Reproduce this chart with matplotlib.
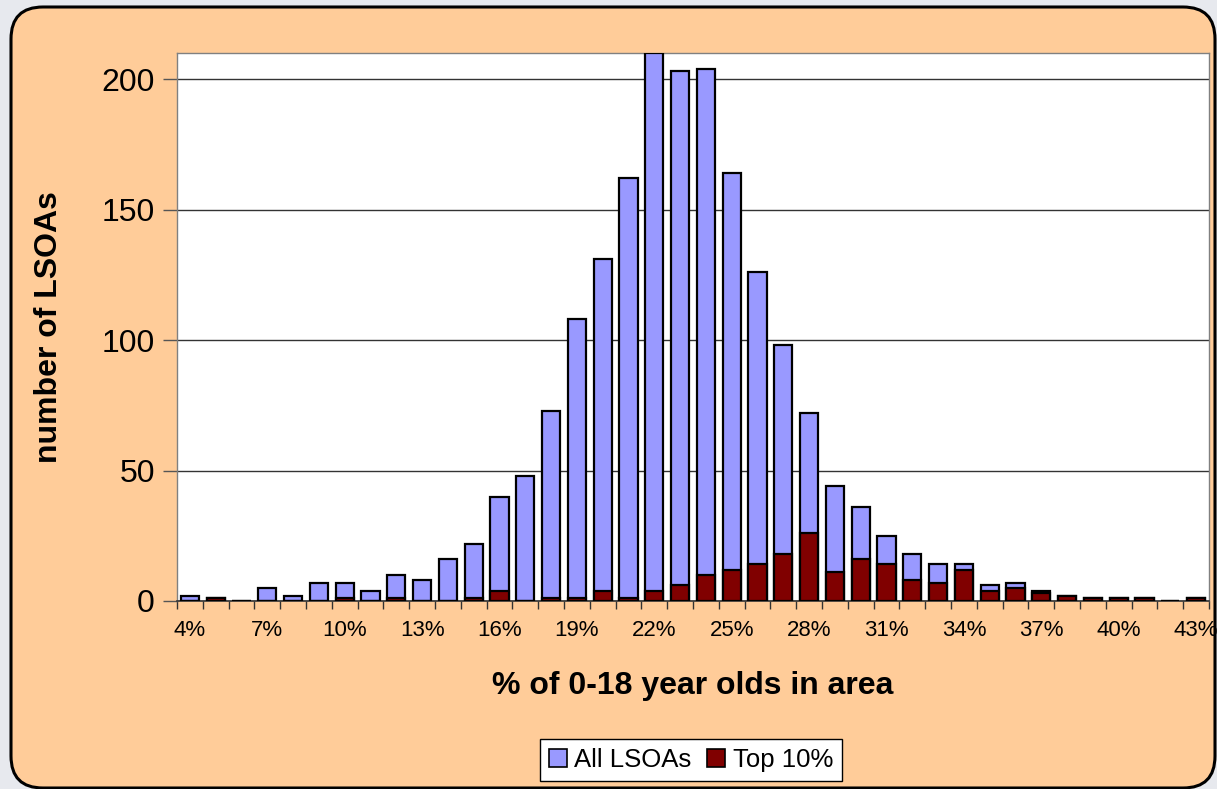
import matplotlib
matplotlib.use("Agg")
from matplotlib import pyplot as plt
from matplotlib.patches import FancyBboxPatch, Patch
import numpy as np

plt.rcParams['font.family'] = ['Liberation Sans', 'DejaVu Sans']

# % of 0-18 year olds, one category per percent
categories = [f"{p}%" for p in range(4, 44)]
all_lsoas = [2, 1, 0, 5, 2, 7, 7, 4, 10, 8, 16, 22, 40, 48, 73, 108, 131, 162, 210, 203,
             204, 164, 126, 98, 72, 44, 36, 25, 18, 14, 14, 6, 7, 4, 2, 1, 1, 1, 0, 1]
top_10 = [0, 1, 0, 0, 0, 0, 1, 0, 1, 0, 0, 1, 4, 0, 1, 1, 4, 1, 4, 6,
          10, 12, 14, 18, 26, 11, 16, 14, 8, 7, 12, 4, 5, 3, 2, 1, 1, 1, 0, 1]
y_ticks = [0, 50, 100, 150, 200]

W, H = 1217, 789
fig = plt.figure(figsize=(W / 100, H / 100), dpi=100)
fig.patch.set_facecolor('#E7E9EE')

# rounded peach panel behind everything (inches)
panel = FancyBboxPatch((11 / 100, 1 / 100), (1215 - 11) / 100, (782 - 1) / 100,
                       boxstyle="round,pad=0,rounding_size=0.32",
                       transform=fig.dpi_scale_trans, facecolor='#FFCC99',
                       edgecolor='black', linewidth=2.2, zorder=-10)
fig.patches.append(panel)

ax = fig.add_axes([177 / W, 1 - 601 / H, (1209 - 177) / W, (601 - 53) / H])
ax.set_facecolor('white')

x = np.arange(len(categories))
ax.bar(x, all_lsoas, width=0.7, color='#9999FF', edgecolor='black', linewidth=1.6, zorder=3)
ax.bar(x, top_10, width=0.7, color='#800000', edgecolor='black', linewidth=1.6, zorder=4)

ax.set_xlim(-0.5, len(categories) - 0.5)
ax.set_ylim(0, 210)

ax.set_yticks(y_ticks)
ax.yaxis.grid(True, color='#333333', linewidth=1)
ax.set_axisbelow(True)
ax.tick_params(axis='y', labelsize=23, length=10, width=1, color='#555555', pad=6)

shown = list(range(0, len(categories), 3))
ax.set_xticks(shown)
ax.set_xticklabels([categories[i] for i in shown])
ax.set_xticks(np.arange(-0.5, len(categories)), minor=True)
ax.tick_params(axis='x', which='major', length=0, labelsize=16, pad=14)
ax.tick_params(axis='x', which='minor', length=6, width=1, color='#333333')

for side in ['left', 'right', 'top']:
    ax.spines[side].set_color('#808080')
    ax.spines[side].set_linewidth(1)
ax.spines['bottom'].set_color('#333333')
ax.spines['bottom'].set_linewidth(1.2)

fig.text(693 / W, 1 - 686 / H, '% of 0-18 year olds in area', ha='center', va='center',
         fontsize=23, fontweight='bold')
fig.text(49 / W, 1 - 327 / H, 'number of LSOAs', ha='center', va='center',
         rotation=90, fontsize=23, fontweight='bold')

handles = [Patch(facecolor='#9999FF', edgecolor='black', linewidth=1.2, label='All LSOAs'),
           Patch(facecolor='#800000', edgecolor='black', linewidth=1.2, label='Top 10%')]
leg = fig.legend(handles=handles, loc='center', bbox_to_anchor=(691 / W, 1 - 760 / H),
                 ncol=2, fontsize=18.5, frameon=True, fancybox=False, handlelength=0.7,
                 handleheight=0.7, handletextpad=0.3, columnspacing=0.6,
                 borderpad=0.35, edgecolor='black', framealpha=1)
leg.get_frame().set_linewidth(1)

fig.savefig('out.png', dpi=100, facecolor=fig.get_facecolor())
